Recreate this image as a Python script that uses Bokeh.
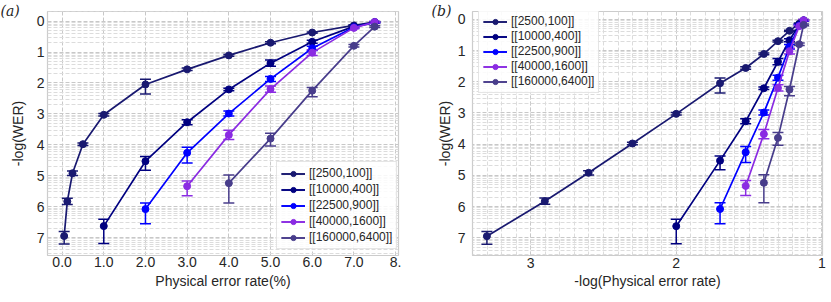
import math
from bokeh.plotting import figure
from bokeh.models import (ColumnDataSource, Whisker, TeeHead, FixedTicker, Legend,
                          LegendItem, Range1d)
from bokeh.layouts import row
from bokeh.embed import file_html
from bokeh.resources import INLINE

# ---------------- data ----------------
names = ["[[2500,100]]", "[[10000,400]]", "[[22500,900]]", "[[40000,1600]]", "[[160000,6400]]"]
colors = ["#191970", "#000080", "#0000ff", "#8a2be2", "#483d8b"]

# physical error rate (%)
s1_p = [0.05, 0.125, 0.25, 0.5, 1, 2, 3, 4, 5, 6, 7, 7.5]
s1_y = [6.95, 5.83, 4.92, 3.98, 3.03, 2.05, 1.56, 1.11, 0.70, 0.37, 0.14, 0.03]
s1_lo = [0.15, 0.10, 0.07, 0.04, 0.04, 0.17, 0.04, 0.03, 0.03, 0.02, 0.02, 0.02]
s1_hi = [0.26, 0.10, 0.07, 0.04, 0.04, 0.31, 0.04, 0.03, 0.03, 0.02, 0.02, 0.02]

s2_p = [1, 2, 3, 4, 5, 6, 7, 7.5]
s2_y = [6.63, 4.53, 3.27, 2.21, 1.36, 0.67, 0.17, 0.04]
s2_lo = [0.22, 0.15, 0.08, 0.04, 0.10, 0.05, 0.02, 0.02]
s2_hi = [0.56, 0.29, 0.08, 0.04, 0.10, 0.05, 0.02, 0.02]

s3_p = [2, 3, 4, 5, 6, 7, 7.5]
s3_y = [6.08, 4.26, 2.99, 1.87, 0.88, 0.20, 0.04]
s3_lo = [0.20, 0.18, 0.08, 0.08, 0.07, 0.03, 0.02]
s3_hi = [0.47, 0.33, 0.08, 0.08, 0.07, 0.03, 0.02]

s4_p = [3, 4, 5, 6, 7, 7.5]
s4_y = [5.34, 3.68, 2.20, 1.02, 0.22, 0.03]
s4_lo = [0.17, 0.15, 0.10, 0.09, 0.03, 0.02]
s4_hi = [0.31, 0.15, 0.10, 0.09, 0.03, 0.02]

s5_p = [4, 5, 6, 7, 7.5]
s5_y = [5.24, 3.80, 2.25, 0.80, 0.18]
s5_lo = [0.26, 0.17, 0.10, 0.04, 0.03]
s5_hi = [0.64, 0.24, 0.20, 0.04, 0.03]

series = [(s1_p, s1_y, s1_lo, s1_hi), (s2_p, s2_y, s2_lo, s2_hi), (s3_p, s3_y, s3_lo, s3_hi),
          (s4_p, s4_y, s4_lo, s4_hi), (s5_p, s5_y, s5_lo, s5_hi)]

xa_ticks = [0, 1, 2, 3, 4, 5, 6, 7, 8]
xa_labels = ["0.0", "1.0", "2.0", "3.0", "4.0", "5.0", "6.0", "7.0", "8."]
xb_ticks = [1, 2, 3]
y_ticks = [0, 1, 2, 3, 4, 5, 6, 7]

FONT = "Liberation Sans"
TXT = "#262626"
H = 302

# log-style minor grid positions for -log(WER)
y_minor = [k + 1 - math.log10(m) for k in range(-1, 8) for m in range(2, 10)]


def style(p, xticker, yticker):
    p.outline_line_color = "#cccccc"
    p.outline_line_width = 1.2
    p.background_fill_color = "white"
    p.border_fill_color = "white"
    for ax in (p.xaxis[0], p.yaxis[0]):
        ax.axis_line_color = None
        ax.major_tick_line_color = None
        ax.minor_tick_line_color = None
        ax.major_tick_out = 0
        ax.major_tick_in = 0
        ax.minor_tick_out = 0
        ax.major_label_text_font = FONT
        ax.major_label_text_font_size = "14px"
        ax.major_label_text_color = TXT
        ax.axis_label_text_font = FONT
        ax.axis_label_text_font_size = "14px"
        ax.axis_label_text_font_style = "normal"
        ax.axis_label_text_color = TXT
    p.xaxis[0].ticker = xticker
    p.yaxis[0].ticker = yticker
    p.xgrid[0].ticker = xticker
    p.ygrid[0].ticker = yticker
    for g in (p.xgrid[0], p.ygrid[0]):
        g.grid_line_color = "#c8c8c8"
        g.grid_line_dash = "4 2"
        g.grid_line_width = 1
    p.ygrid[0].minor_grid_line_color = "#dcdcdc"
    p.ygrid[0].minor_grid_line_dash = "4 2"
    p.ygrid[0].minor_grid_line_width = 1


def build(xform, width, borders, x_range, y_range, xticker, xlabel, standoffs,
          legend_loc, legend_spacing, tag, tag_offset, tag_standoff):
    mb_left, mb_right, mb_top, mb_bottom = borders
    p = figure(width=width, height=H, output_backend="svg", toolbar_location=None,
               x_range=x_range, y_range=y_range, title=tag,
               min_border_left=mb_left, min_border_right=mb_right,
               min_border_top=mb_top, min_border_bottom=mb_bottom)
    # panel tag "(a)" / "(b)" as the plot title, pulled into the top-left corner
    p.title.align = "left"
    p.title.vertical_align = "top"
    p.title.offset = tag_offset
    p.title.standoff = tag_standoff
    p.title.text_font = "DejaVu Serif"
    p.title.text_font_style = "italic"
    p.title.text_font_size = "14px"
    p.title.text_color = TXT

    yticker = FixedTicker(ticks=y_ticks, minor_ticks=y_minor)
    style(p, xticker, yticker)
    p.xaxis[0].axis_label = xlabel
    p.yaxis[0].axis_label = "-log(WER)"
    xs_l, xs_a, ys_l, ys_a = standoffs
    p.xaxis[0].major_label_standoff = xs_l
    p.xaxis[0].axis_label_standoff = xs_a
    p.yaxis[0].major_label_standoff = ys_l
    p.yaxis[0].axis_label_standoff = ys_a

    items = []
    for (pp, yy, lo, hi), name, c in zip(series, names, colors):
        xs = [xform(v) for v in pp]
        src = ColumnDataSource(dict(x=xs, y=yy,
                                    lower=[a - b for a, b in zip(yy, lo)],
                                    upper=[a + b for a, b in zip(yy, hi)]))
        w = Whisker(source=src, base="x", lower="lower", upper="upper", dimension="height",
                    line_color=c, line_width=1.5,
                    upper_head=TeeHead(size=11, line_color=c, line_width=1.5),
                    lower_head=TeeHead(size=11, line_color=c, line_width=1.5))
        p.add_layout(w)
        lr = p.line("x", "y", source=src, line_color=c, line_width=1.7)
        sr = p.scatter("x", "y", source=src, size=7, fill_color=c, line_color=c)
        vr = p.vspan(x=[float("nan")], line_color=c, line_width=1.5)
        items.append(LegendItem(label=name, renderers=[lr, vr, sr]))

    leg = Legend(items=items, location=legend_loc, margin=0, padding=4, spacing=legend_spacing,
                 glyph_width=24, glyph_height=13, label_height=12, label_standoff=4,
                 label_text_font=FONT, label_text_font_size="12px", label_text_color=TXT,
                 border_line_color="#cccccc", border_line_width=1,
                 background_fill_color="white", background_fill_alpha=0.85)
    p.add_layout(leg)
    return p


pa = build(lambda v: v, 415, (47, 17, 11, 47), Range1d(-0.35, 8.07), Range1d(7.58, -0.31),
           FixedTicker(ticks=xa_ticks), "Physical error rate(%)", (1, 3, 3, 8),
           (229, 6), 2, "(a)", -47, -18)
pa.xaxis[0].major_label_overrides = dict(zip(xa_ticks, xa_labels))

pb = build(lambda v: -math.log10(v / 100.0), 416, (57, 9, 10, 45), Range1d(3.40, 0.995),
           Range1d(7.57, -0.25),
           FixedTicker(ticks=xb_ticks, minor_ticks=[round(1 + 0.1 * i, 2) for i in range(0, 25)]),
           "-log(Physical error rate)", (2, 2, 7, 2),
           (6, 162), 1, "(b)", -41, -18)
pb.xgrid[0].minor_grid_line_color = "#dcdcdc"
pb.xgrid[0].minor_grid_line_dash = "4 2"
pb.xgrid[0].minor_grid_line_width = 1

layout = row(pa, pb)
open("out.html", "w").write(file_html(layout, INLINE))
